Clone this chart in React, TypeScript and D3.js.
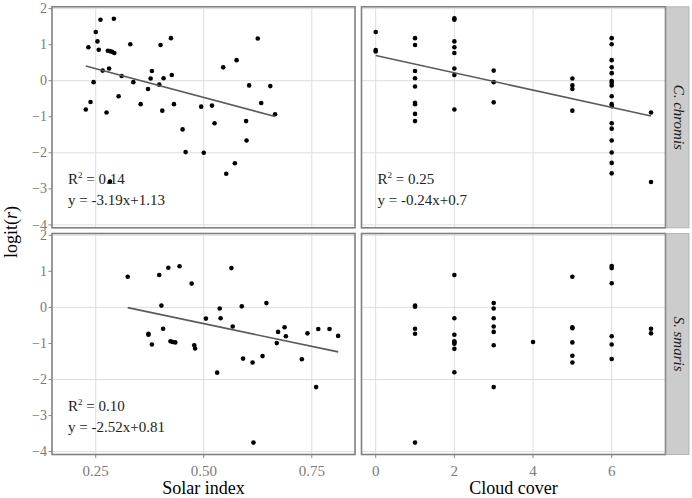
import React from "react";
import * as d3 from "d3";

// ---- Data ----
const chromisSolarX = [0.227,0.233,0.238,0.245,0.25,0.254,0.257,0.261,0.266,0.275,0.278,0.281,0.283,0.288,0.293,0.292,0.283,0.303,0.31,0.33,0.337,0.354,0.371,0.377,0.38,0.397,0.4,0.404,0.407,0.424,0.426,0.431,0.451,0.458,0.494,0.5,0.519,0.525,0.545,0.552,0.572,0.576,0.598,0.599,0.605,0.625,0.633,0.654,0.665];
const chromisSolarY = [-0.8,0.93,-0.59,-0.04,1.35,1.09,0.86,1.69,0.28,-0.88,0.83,0.34,0.82,0.8,0.77,1.72,-2.8,-0.43,0.13,1.01,-0.04,-0.65,-0.23,0.06,0.27,-0.11,0.99,-0.83,0.07,1.18,0.16,-0.65,-1.35,-1.98,-0.72,-2.0,-0.69,-1.18,0.37,-2.58,-2.29,0.57,-1.12,-1.66,-0.13,1.17,-0.62,-0.15,-0.93];

const chromisCloudX = [0,0,0,1,1,1,1,1,1,1,1,1,2,2,2,2,2,2,2,2,3,3,3,5,5,5,5,6,6,6,6,6,6,6,6,6,6,6,6,6,6,6,6,6,7,7];
const chromisCloudY = [1.35,0.85,0.81,1.18,0.99,0.27,0.07,-0.16,-0.61,-0.65,-0.92,-1.12,1.73,1.69,1.09,0.93,0.77,0.34,0.16,-0.8,0.28,-0.04,-0.6,0.06,-0.13,-0.23,-0.83,1.18,1.01,0.57,0.37,0.21,-0.01,-0.06,-0.13,-0.43,-0.65,-0.71,-1.18,-1.33,-1.66,-1.99,-2.28,-2.57,-0.88,-2.81];

const smarisSolarX = [0.324,0.397,0.418,0.444,0.472,0.402,0.406,0.372,0.372,0.38,0.423,0.428,0.434,0.478,0.48,0.505,0.531,0.537,0.539,0.564,0.567,0.588,0.591,0.613,0.615,0.636,0.645,0.669,0.672,0.687,0.69,0.727,0.74,0.76,0.765,0.791,0.811];
const smarisSolarY = [0.85,0.9,1.1,1.14,0.66,0.05,-0.59,-0.73,-0.76,-1.03,-0.94,-0.96,-0.97,-1.05,-1.14,-0.31,-1.81,-0.03,-0.3,1.09,-0.53,0.03,-1.42,-1.53,-3.75,-1.35,0.12,-0.99,-0.68,-0.55,-0.8,-1.44,-0.72,-2.21,-0.6,-0.6,-0.79];

const smarisCloudX = [1,1,1,1,1,2,2,2,2,2,2,2,2,3,3,3,3,3,3,3,4,5,5,5,5,5,5,6,6,6,6,6,6,7,7];
const smarisCloudY = [0.05,0.02,-0.59,-0.73,-3.75,0.9,-0.3,-0.76,-0.94,-0.97,-1.01,-1.15,-1.8,0.12,-0.03,-0.3,-0.53,-0.68,-1.05,-2.21,-0.96,0.85,-0.55,-0.58,-0.97,-1.34,-1.53,1.15,1.09,0.67,-0.8,-1.03,-1.43,-0.59,-0.72];

const solarTicks = [0.25, 0.5, 0.75];
const solarTickLabels = ["0.25", "0.50", "0.75"];
const cloudTicks = [0, 2, 4, 6];
const yTicks = [2, 1, 0, -1, -2, -3, -4];
const yGrid = [2, 0, -2, -4];
const speciesLabels = ["C. chromis", "S. smaris"];

const fitSlopes = [-3.19, -0.24, -2.52];
const fitIntercepts = [1.13, 0.7, 0.81];
const r2Labels = ["0.14", "0.25", "0.10"];
const eqLabels = ["y = -3.19x+1.13", "y = -0.24x+0.7", "y = -2.52x+0.81"];

// ---- Layout ----
const W = 692, H = 498;
const FONT = "'Liberation Serif', 'Times New Roman', serif";
const leftX0 = 52, leftX1 = 355;
const rightX0 = 361.5, rightX1 = 665.5;
const stripX1 = 689;
const rowTops = [6.8, 233.5];
const panelH = 221;

const xSolar = d3.scaleLinear().domain([0.1488, 0.85]).range([leftX0, leftX1]);
const xCloud = d3.scaleLinear().domain([-0.361, 7.368]).range([rightX0, rightX1]);
const yDomain: [number, number] = [-4.08, 2.05];

type PanelSpec = {
  xs: number[]; ys: number[]; xScale: d3.ScaleLinear<number, number>;
  row: number; fit: number | null; xTicks: number[];
};

const panels: PanelSpec[] = [
  { xs: chromisSolarX, ys: chromisSolarY, xScale: xSolar, row: 0, fit: 0, xTicks: solarTicks },
  { xs: chromisCloudX, ys: chromisCloudY, xScale: xCloud, row: 0, fit: 1, xTicks: cloudTicks },
  { xs: smarisSolarX, ys: smarisSolarY, xScale: xSolar, row: 1, fit: 2, xTicks: solarTicks },
  { xs: smarisCloudX, ys: smarisCloudY, xScale: xCloud, row: 1, fit: null, xTicks: cloudTicks },
];

function Panel({ p }: { p: PanelSpec }) {
  const top = rowTops[p.row];
  const y = d3.scaleLinear().domain(yDomain).range([top + panelH, top]);
  const [x0, x1] = p.xScale.range();
  let fitLine: string | null = null;
  if (p.fit !== null) {
    const m = fitSlopes[p.fit], b = fitIntercepts[p.fit];
    const lo = d3.min(p.xs) as number, hi = d3.max(p.xs) as number;
    fitLine = d3.line<number>().x((v) => p.xScale(v)).y((v) => y(m * v + b))([lo, hi]);
  }
  return (
    <g>
      <rect x={x0} y={top} width={x1 - x0} height={panelH} fill="#fff" />
      {p.xTicks.map((t) => (
        <line key={"vx" + t} x1={p.xScale(t)} x2={p.xScale(t)} y1={top} y2={top + panelH} stroke="#dedede" strokeWidth={1} />
      ))}
      {yGrid.map((t) => (
        <line key={"hy" + t} x1={x0} x2={x1} y1={y(t)} y2={y(t)} stroke="#dedede" strokeWidth={1} />
      ))}
      {p.xs.map((xv, i) => (
        <circle key={i} cx={p.xScale(xv)} cy={y(p.ys[i])} r={2.3} fill="#000" />
      ))}
      {fitLine && <path d={fitLine} fill="none" stroke="#5a5a5a" strokeWidth={1.6} />}
      {p.fit !== null && (
        <g fontFamily={FONT} fontSize={15} fill="#222">
          <text x={x0 + 16} y={top + 177}>
            R<tspan fontSize={9} dy={-6}>2</tspan><tspan dy={6}> = {r2Labels[p.fit]}</tspan>
          </text>
          <text x={x0 + 16} y={top + 198}>{eqLabels[p.fit]}</text>
        </g>
      )}
      <rect x={x0} y={top} width={x1 - x0} height={panelH} fill="none" stroke="#808080" strokeWidth={1.6} />
    </g>
  );
}

export default function App() {
  const yTop = d3.scaleLinear().domain(yDomain).range([rowTops[0] + panelH, rowTops[0]]);
  const yBot = d3.scaleLinear().domain(yDomain).range([rowTops[1] + panelH, rowTops[1]]);
  const fmt = (v: number) => (v < 0 ? "\u2212" + Math.abs(v) : String(v));
  return (
    <svg width={W} height={H} style={{ position: "absolute", left: 0, top: 0, background: "#fff" }} fontFamily={FONT}>
      <rect width={W} height={H} fill="#fff" />
      {panels.map((p, i) => <Panel key={i} p={p} />)}
      {rowTops.map((top, r) => (
        <g key={"s" + r}>
          <rect x={rightX1 + 0.8} y={top} width={stripX1 - rightX1 - 0.8} height={panelH} fill="#cccccc" stroke="#b5b5b5" strokeWidth={1} />
          <text transform={`translate(${673.5},${top + panelH / 2}) rotate(90)`} textAnchor="middle" fontSize={15} fontStyle="italic" fill="#1a1a1a">
            {speciesLabels[r]}
          </text>
        </g>
      ))}
      {[yTop, yBot].map((ys, r) => (
        <g key={"ya" + r}>
          {yTicks.map((t) => (
            <g key={t}>
              <line x1={leftX0 - 3.5} x2={leftX0} y1={ys(t)} y2={ys(t)} stroke="#8a8a8a" strokeWidth={1} />
              <text x={leftX0 - 5} y={ys(t)} dy="0.33em" textAnchor="end" fontSize={14} fill="#7a7a7a">{fmt(t)}</text>
            </g>
          ))}
        </g>
      ))}
      {solarTicks.map((t, i) => (
        <g key={"xs" + t}>
          <line x1={xSolar(t)} x2={xSolar(t)} y1={rowTops[1] + panelH} y2={rowTops[1] + panelH + 3.5} stroke="#8a8a8a" />
          <text x={xSolar(t)} y={476} textAnchor="middle" fontSize={15} fill="#7a7a7a">{solarTickLabels[i]}</text>
        </g>
      ))}
      {cloudTicks.map((t) => (
        <g key={"xc" + t}>
          <line x1={xCloud(t)} x2={xCloud(t)} y1={rowTops[1] + panelH} y2={rowTops[1] + panelH + 3.5} stroke="#8a8a8a" />
          <text x={xCloud(t)} y={476} textAnchor="middle" fontSize={15} fill="#7a7a7a">{t}</text>
        </g>
      ))}
      <text x={(leftX0 + leftX1) / 2} y={494} textAnchor="middle" fontSize={18} fill="#000">Solar index</text>
      <text x={(rightX0 + rightX1) / 2} y={494} textAnchor="middle" fontSize={18} fill="#000">Cloud cover</text>
      <text transform={`translate(17,232) rotate(-90)`} textAnchor="middle" fontSize={18} fill="#000">
        logit(<tspan fontStyle="italic">r</tspan>)
      </text>
    </svg>
  );
}
